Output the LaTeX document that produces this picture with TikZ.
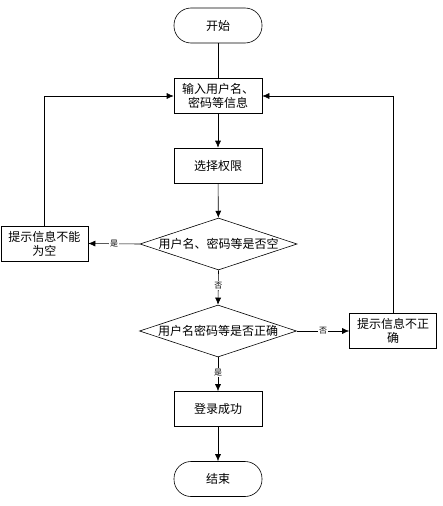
\documentclass[tikz,border=0pt]{standalone}
\usepackage{fontspec}
\setmainfont{Noto Sans CJK SC}
\usetikzlibrary{shapes.geometric,arrows.meta}
\begin{document}
\begin{tikzpicture}[x=1pt,y=-1pt,
  every node/.style={font=\fontsize{12}{14}\selectfont, inner sep=0pt},
  term/.style={draw, rounded corners=17pt, minimum width=88pt, minimum height=35pt},
  proc/.style={draw, minimum width=88pt, minimum height=35pt, align=center},
  side/.style={draw, minimum width=87pt, minimum height=35pt, align=center, text width=80pt},
  dec/.style={draw, diamond, aspect=3, minimum width=157pt, minimum height=52pt, inner sep=0pt},
  arr/.style={draw, -{Latex[length=7pt,width=6pt]}, line width=0.6pt},
  lab/.style={font=\fontsize{8}{9}\selectfont, fill=white, inner sep=1pt},
  line width=0.6pt]
\useasboundingbox (0,0) rectangle (442,506);
\node[term] (start) at (218,25.5) {开始};
\node[proc] (input) at (218,95.5) {输入用户名、\\密码等信息};
\node[proc] (select) at (218,165.5) {选择权限};
\node[dec] (d1) at (218.5,244) {};
\node at (218.5,244) {用户名、密码等是否空};
\node[side] (empty) at (44.5,243.5) {提示信息不能\\为空};
\node[dec] (d2) at (218,331) {};
\node at (218,331) {用户名密码等是否正确};
\node[side] (wrong) at (393,331) {提示信息不正\\确};
\node[proc] (ok) at (218,409) {登录成功};
\node[term] (end) at (218,479) {结束};
\coordinate (lc) at (44.5,96);
\coordinate (rc) at (393,96);
\draw (start) -- (input);
\draw[arr] (input) -- (select);
\draw[arr] (select) -- (d1);
\draw[arr] (d1.west) -- node[lab]{是} (empty.east);
\draw[arr] (d1.south) -- node[lab, pos=0.45]{否} (d2.north);
\draw[arr] (d2.east) -- node[lab]{否} (wrong.west);
\draw[arr] (d2.south) -- node[lab, pos=0.45]{是} (ok.north);
\draw[arr] (ok) -- (end);
\draw[arr] (empty.north) -- (lc) -- (input.west |- lc);
\draw[arr] (wrong.north) -- (rc) -- (input.east |- rc);
\end{tikzpicture}
\end{document}
